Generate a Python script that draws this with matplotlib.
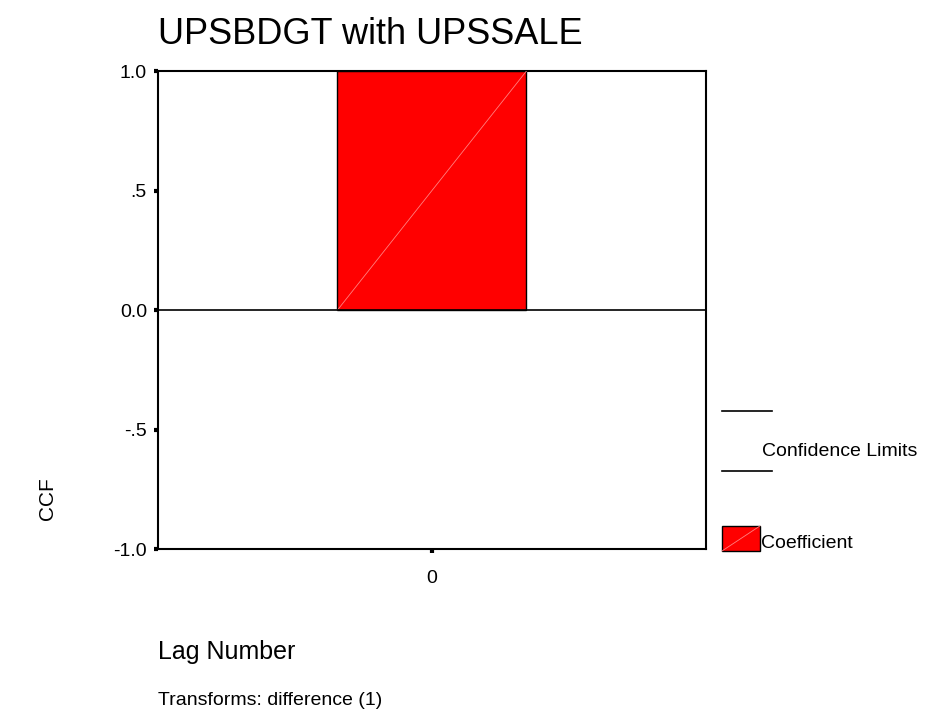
import matplotlib.pyplot as plt
from matplotlib.patches import Rectangle
from matplotlib.lines import Line2D

plt.rcParams['font.family'] = ['Liberation Sans', 'DejaVu Sans']

lags = [0]
ccf = [1.0]
ytick_vals = [-1.0, -0.5, 0.0, 0.5, 1.0]
ytick_labels = ["-1.0", "-.5", "0.0", ".5", "1.0"]

fig = plt.figure(figsize=(9.25, 7.13), dpi=100)
ax = fig.add_axes([0.1708, 0.230, 0.5924, 0.6704])

bars = ax.bar(lags, ccf, width=1.0, color="red", edgecolor="black", linewidth=1, zorder=2)
# faint diagonal stripe inside each bar
for b in bars:
    x0, y0 = b.get_x(), b.get_y()
    ax.plot([x0, x0 + b.get_width()], [y0, y0 + b.get_height()],
            color="#ff8080", linewidth=0.6, zorder=3)

ax.axhline(0, color="black", linewidth=1.2, zorder=4)

ax.set_xlim(-1.45, 1.45)
ax.set_ylim(-1.0, 1.0)
ax.set_xticks(lags)
ax.set_xticklabels([str(l) for l in lags])
ax.set_yticks(ytick_vals)
ax.set_yticklabels(ytick_labels)
ax.tick_params(axis="both", direction="out", length=3, width=3, labelsize=14)
ax.tick_params(axis="y", pad=5)
ax.tick_params(axis="x", pad=12)
for s in ax.spines.values():
    s.set_linewidth(1.5)

fig.text(0.1708, 0.952, "UPSBDGT with UPSSALE", fontsize=26, va="center", ha="left")
fig.text(0.051, 0.30, "CCF", fontsize=15, rotation=90, va="center", ha="center")
fig.text(0.1708, 0.086, "Lag Number", fontsize=18, va="center", ha="left")
fig.text(0.1708, 0.018, "Transforms: difference (1)", fontsize=14, va="center", ha="left")

# legend drawn by hand in figure coordinates
fig.add_artist(Line2D([0.7805, 0.835], [1 - 411 / 713] * 2, color="black", linewidth=1.2))
fig.add_artist(Line2D([0.7805, 0.835], [1 - 471 / 713] * 2, color="black", linewidth=1.2))
fig.text(0.824, 1 - 452 / 713, "Confidence Limits", fontsize=14, va="center", ha="left")
fig.add_artist(Rectangle((0.7805, 1 - 551 / 713), 0.041, 25 / 713, facecolor="red",
                         edgecolor="black", linewidth=1, transform=fig.transFigure))
fig.add_artist(Line2D([0.7805, 0.8215], [1 - 551 / 713, 1 - 526 / 713], color="#ff8080", linewidth=0.6))
fig.text(0.823, 1 - 543 / 713, "Coefficient", fontsize=14, va="center", ha="left")

fig.savefig("out.png", dpi=100)
